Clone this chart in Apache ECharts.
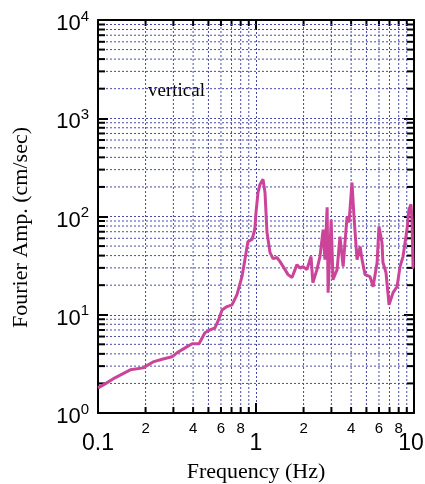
<!DOCTYPE html>
<html>
<head>
<meta charset="utf-8">
<script src="https://cdn.jsdelivr.net/npm/echarts@6/dist/echarts.min.js"></script>
<style>
html, body { margin: 0; padding: 0; background: #fff; }
#chart { width: 425px; height: 484px; }
</style>
</head>
<body>
<div id="chart"></div>
<script>
// spectrum: frequency (Hz) and Fourier amplitude (cm/sec)
var freq = [0.1, 0.111, 0.128, 0.16, 0.193, 0.223, 0.258, 0.294, 0.316, 0.356,
    0.394, 0.436, 0.475, 0.511, 0.55, 0.58, 0.61, 0.655, 0.705, 0.758,
    0.815, 0.851, 0.889, 0.944, 0.971, 0.985, 1.0, 1.03, 1.06, 1.107,
    1.14, 1.174, 1.227, 1.282, 1.359, 1.419, 1.527, 1.595, 1.69, 1.766,
    1.817, 1.898, 1.983, 2.10, 2.23, 2.29, 2.43, 2.54, 2.66, 2.73,
    2.82, 2.86, 2.99, 3.07, 3.26, 3.40, 3.56, 3.77, 3.88, 4.05,
    4.17, 4.36, 4.56, 4.69, 4.90, 5.27, 5.51, 5.84, 6.0, 6.27,
    6.36, 6.65, 6.95, 7.37, 7.81, 8.16, 8.52, 9.03, 9.29, 9.57,
    9.71, 9.86, 10];
var amp = [1.80, 1.98, 2.28, 2.75, 2.88, 3.31, 3.55, 3.73, 4.10, 4.6,
    5.06, 5.06, 6.55, 7.0, 7.37, 8.9, 11.2, 12.1, 12.6, 16.0,
    24.4, 36.4, 55.6, 58.3, 68.7, 77, 110, 176, 212, 239,
    176, 68.7, 42.9, 37.3, 38.2, 34.7, 28.8, 25.6, 23.9, 28.8,
    32.4, 29.8, 30.9, 28.8, 39.1, 21.2, 28.8, 39.1, 73.6, 36.4,
    124, 16.8, 93.2, 22.8, 28.8, 62.5, 30.9, 100, 86.9, 222,
    100, 36.4, 49.4, 36.4, 25.6, 24.4, 19.3, 34.0, 79, 54.3,
    34.0, 26.8, 12.6, 16.8, 19.3, 30.9, 39.1, 73.6, 118, 133,
    93, 30.2, 30];

// minor grid positions and their labels
var xMinor = [0.2, 0.3, 0.4, 0.5, 0.6, 0.7, 0.8, 0.9, 2, 3, 4, 5, 6, 7, 8, 9];
var xMinorText = ['2', '', '4', '', '6', '', '8', '', '2', '', '4', '', '6', '', '8', ''];
var yMinor = [2, 3, 4, 5, 6, 7, 8, 9, 20, 30, 40, 50, 60, 70, 80, 90,
    200, 300, 400, 500, 600, 700, 800, 900, 2000, 3000, 4000, 5000, 6000, 7000, 8000, 9000];
var xMajorText = ['0.1', '1', '10'];

var gridColor = '#4a4aaa';
var sans = '"Liberation Sans", Arial, sans-serif';
var serif = '"Liberation Serif", "Times New Roman", serif';

var chart = echarts.init(document.getElementById('chart'));

function renderXMinor(params, api) {
    var x = api.value(0);
    var b = api.coord([x, 1]);
    var t = api.coord([x, 10000]);
    var kids = [
        { type: 'line', shape: { x1: b[0], y1: b[1], x2: t[0], y2: t[1] },
          style: { stroke: gridColor, lineWidth: 1, lineDash: [2, 2] } },
        { type: 'line', shape: { x1: b[0], y1: b[1], x2: b[0], y2: b[1] - 6 },
          style: { stroke: '#000', lineWidth: 2 } },
        { type: 'line', shape: { x1: t[0], y1: t[1], x2: t[0], y2: t[1] + 6 },
          style: { stroke: '#000', lineWidth: 2 } }
    ];
    var lbl = xMinorText[params.dataIndex];
    if (lbl) {
        kids.push({ type: 'text', x: b[0], y: b[1] + 8,
            style: { text: lbl, fill: '#000', font: '15px ' + sans,
                     align: 'center', verticalAlign: 'top',
                     textAlign: 'center', textVerticalAlign: 'top' } });
    }
    return { type: 'group', children: kids };
}

function renderYMinor(params, api) {
    var y = api.value(1);
    var l = api.coord([0.1, y]);
    var r = api.coord([10, y]);
    return { type: 'group', children: [
        { type: 'line', shape: { x1: l[0], y1: l[1], x2: r[0], y2: r[1] },
          style: { stroke: gridColor, lineWidth: 1, lineDash: [2, 2] } },
        { type: 'line', shape: { x1: l[0], y1: l[1], x2: l[0] + 7, y2: l[1] },
          style: { stroke: '#000', lineWidth: 2 } },
        { type: 'line', shape: { x1: r[0], y1: r[1], x2: r[0] - 7, y2: r[1] },
          style: { stroke: '#000', lineWidth: 2 } }
    ] };
}

var axisLine = { show: true, lineStyle: { color: '#000', width: 2 } };
var majorTick = { show: true, inside: true, length: 10, lineStyle: { color: '#000', width: 2 } };
var split = { show: true, lineStyle: { color: gridColor, width: 1, type: [2, 2] } };

chart.setOption({
    animation: false,
    backgroundColor: '#fff',
    grid: { left: 98, right: 11, top: 20, bottom: 71, outerBoundsMode: 'none' },
    xAxis: [{
        type: 'log', logBase: 10, min: 0.1, max: 10, position: 'bottom',
        axisLine: axisLine, axisTick: majorTick, splitLine: split,
        axisLabel: {
            margin: 19, color: '#000',
            formatter: function (v) {
                var e = Math.round(Math.log10(v)) + 1;
                var t = xMajorText[e];
                if (!t) return '';
                return e === 2 ? '{r|' + t + '}' : '{m|' + t + '}';
            },
            rich: {
                m: { fontSize: 23, fontFamily: sans, color: '#000' },
                r: { fontSize: 23, fontFamily: sans, color: '#000', padding: [0, 6, 0, 0] }
            }
        },
        name: 'Frequency (Hz)', nameLocation: 'middle', nameGap: 48,
        nameTextStyle: { color: '#000', fontSize: 22, fontFamily: serif }
    }, {
        type: 'log', logBase: 10, min: 0.1, max: 10, position: 'top',
        axisLine: axisLine, axisTick: majorTick, splitLine: { show: false },
        axisLabel: { show: false }
    }],
    yAxis: [{
        type: 'log', logBase: 10, min: 1, max: 10000, position: 'left',
        axisLine: axisLine, axisTick: majorTick, splitLine: split,
        axisLabel: {
            margin: 9, color: '#000', padding: [8, 0, 0, 0],
            formatter: function (v) {
                return '{b|10}{s|' + Math.round(Math.log10(v)) + '}';
            },
            rich: {
                b: { fontSize: 22, fontFamily: sans, color: '#000', lineHeight: 30 },
                s: { fontSize: 15, fontFamily: sans, color: '#000', lineHeight: 15, verticalAlign: 'top' }
            }
        },
        name: 'Fourier Amp. (cm/sec)', nameLocation: 'middle', nameGap: 66,
        nameTextStyle: { color: '#000', fontSize: 22, fontFamily: serif, padding: [0, 22, 0, 0] }
    }, {
        type: 'log', logBase: 10, min: 1, max: 10000, position: 'right',
        axisLine: axisLine, axisTick: majorTick, splitLine: { show: false },
        axisLabel: { show: false }
    }],
    graphic: [{
        type: 'text', left: 148, top: 82,
        style: { text: 'vertical', fill: '#000', font: '19px ' + serif }
    }],
    series: [{
        type: 'custom', xAxisIndex: 0, yAxisIndex: 0, z: 1, silent: true,
        renderItem: renderXMinor,
        data: xMinor.map(function (v) { return [v, 1]; })
    }, {
        type: 'custom', xAxisIndex: 0, yAxisIndex: 0, z: 1, silent: true,
        renderItem: renderYMinor,
        data: yMinor.map(function (v) { return [0.1, v]; })
    }, {
        type: 'line', xAxisIndex: 0, yAxisIndex: 0, z: 5,
        symbol: 'none', smooth: false,
        lineStyle: { color: '#cc4499', width: 3 },
        data: freq.map(function (f, i) { return [f, amp[i]]; })
    }]
});
</script>
</body>
</html>
